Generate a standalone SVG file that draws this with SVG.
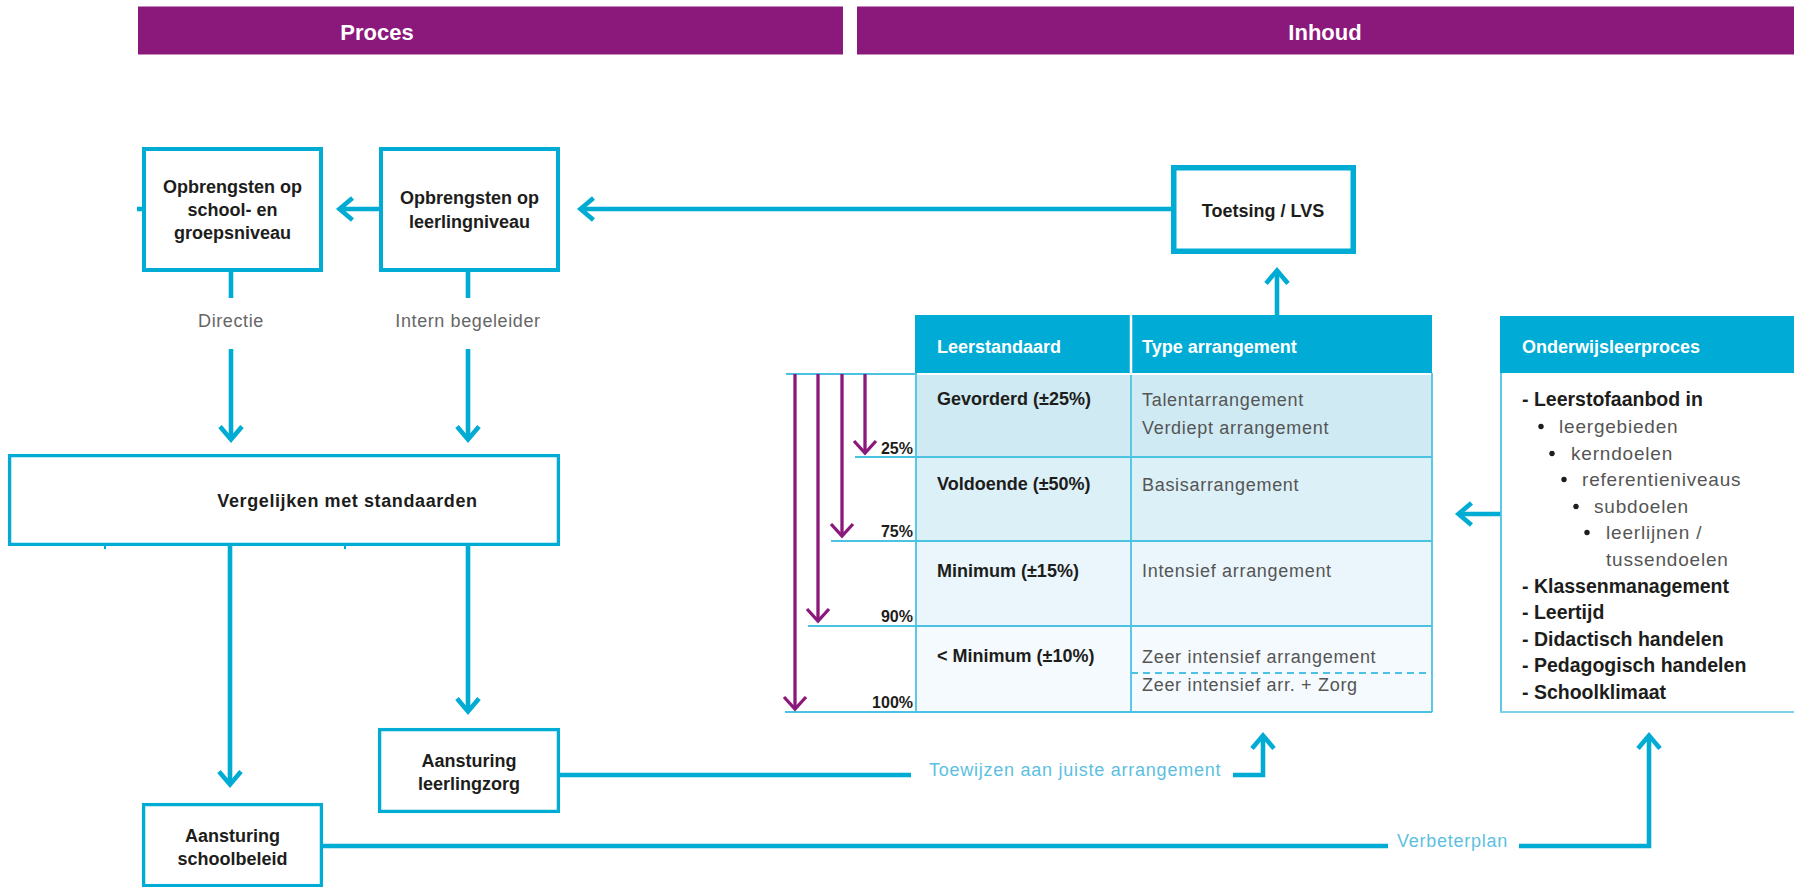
<svg xmlns="http://www.w3.org/2000/svg" width="1794" height="887" viewBox="0 0 1794 887">
<style>
text{font-family:"Liberation Sans",Arial,sans-serif}
.bar{fill:#8b187b}
.title{font-size:22px;font-weight:bold;fill:#fff;text-anchor:middle}
.box{fill:#fff;stroke:#00acd4}
.bt{font-size:18px;font-weight:bold;fill:#1d1d1b;text-anchor:middle}
.con{fill:none;stroke:#00acd4;stroke-width:4.6}
.chev{fill:none;stroke:#00acd4;stroke-width:4.6;stroke-linejoin:miter;stroke-miterlimit:10}
.lbl{font-size:18px;fill:#666;letter-spacing:0.6px;text-anchor:middle}
.blbl{font-size:18px;fill:#5cbfe2;letter-spacing:0.75px}
.hdr{fill:#00acd6}
.ht{font-size:18px;font-weight:bold;fill:#fff}
.tl{fill:none;stroke:#4cc2e2;stroke-width:1.8}
.rb{font-size:18px;font-weight:bold;fill:#1d1d1b}
.rr{font-size:18px;fill:#555;letter-spacing:0.7px}
.pct{font-size:16px;font-weight:bold;fill:#1d1d1b;text-anchor:end}
.pur{fill:none;stroke:#8b187b;stroke-width:3.3}
.li{font-size:19.5px;font-weight:bold;fill:#1d1d1b}
.sub{font-size:19px;fill:#555;letter-spacing:0.8px}
</style>

<g id="header-proces">
<rect class="bar" x="138" y="6.5" width="705" height="48"/>
<text class="title" x="377" y="40">Proces</text>
</g>
<g id="header-inhoud">
<rect class="bar" x="857" y="6.5" width="937" height="48"/>
<text class="title" x="1325" y="40">Inhoud</text>
</g>

<g id="connectors">
<line class="con" x1="137" y1="209" x2="144" y2="209"/>
<line class="con" x1="380" y1="209" x2="340" y2="209"/>
<polyline class="chev" points="352.5,198 339.5,209 352.5,220"/>
<line class="con" x1="1172" y1="209" x2="581" y2="209"/>
<polyline class="chev" points="593.5,198 580.5,209 593.5,220"/>

<line class="con" x1="231" y1="272" x2="231" y2="298"/>
<line class="con" x1="231" y1="349" x2="231" y2="439"/>
<polyline class="chev" points="220,426.5 231,439.5 242,426.5"/>
<line class="con" x1="468" y1="272" x2="468" y2="298"/>
<line class="con" x1="468" y1="349" x2="468" y2="439"/>
<polyline class="chev" points="457,426.5 468,439.5 479,426.5"/>

<line class="con" x1="230" y1="546" x2="230" y2="784"/>
<polyline class="chev" points="219,771.5 230,784.5 241,771.5"/>
<line class="con" x1="468" y1="546" x2="468" y2="711"/>
<polyline class="chev" points="457,698.5 468,711.5 479,698.5"/>
<line stroke="#00acd4" stroke-width="2" x1="105" y1="546" x2="105" y2="549"/>
<line stroke="#00acd4" stroke-width="2" x1="345" y1="546" x2="345" y2="549"/>

<line class="con" x1="1277" y1="315" x2="1277" y2="271"/>
<polyline class="chev" points="1266,283.5 1277,270.5 1288,283.5"/>

<line class="con" x1="1501" y1="514" x2="1459" y2="514"/>
<polyline class="chev" points="1471.5,503 1458.5,514 1471.5,525"/>

<line class="con" x1="559" y1="775" x2="911" y2="775"/>
<polyline class="con" points="1233,775 1263,775 1263,736"/>
<polyline class="chev" points="1252,748.5 1263,735.5 1274,748.5"/>

<line class="con" x1="322" y1="846" x2="1388" y2="846"/>
<polyline class="con" points="1519,846 1649,846 1649,736"/>
<polyline class="chev" points="1638,748.5 1649,735.5 1660,748.5"/>

<text class="lbl" x="231" y="327">Directie</text>
<text class="lbl" x="468" y="327">Intern begeleider</text>
<text class="blbl" x="929" y="776">Toewijzen aan juiste arrangement</text>
<text class="blbl" x="1397" y="847">Verbeterplan</text>
</g>

<g id="node-opbrengsten-school">
<rect class="box" stroke-width="4" x="144" y="149" width="177" height="121"/>
<text class="bt" x="232.5" y="193">Opbrengsten op</text>
<text class="bt" x="232.5" y="216">school- en</text>
<text class="bt" x="232.5" y="239">groepsniveau</text>
</g>

<g id="node-opbrengsten-leerling">
<rect class="box" stroke-width="4" x="381" y="149" width="177" height="121"/>
<text class="bt" x="469.5" y="204">Opbrengsten op</text>
<text class="bt" x="469.5" y="228">leerlingniveau</text>
</g>

<g id="node-toetsing">
<rect class="box" stroke-width="5.5" x="1173.75" y="167.75" width="179.5" height="83.5"/>
<text class="bt" x="1263" y="217">Toetsing / LVS</text>
</g>

<g id="node-vergelijken">
<rect class="box" stroke-width="3.3" x="9.6" y="455.6" width="548.8" height="88.8"/>
<text class="bt" x="347.5" y="507" style="letter-spacing:0.6px">Vergelijken met standaarden</text>
</g>

<g id="node-aansturing-leerlingzorg">
<rect class="box" stroke-width="3.3" x="379.6" y="729.6" width="178.8" height="81.8"/>
<text class="bt" x="469" y="767">Aansturing</text>
<text class="bt" x="469" y="790">leerlingzorg</text>
</g>

<g id="node-aansturing-schoolbeleid">
<rect class="box" stroke-width="3.3" x="143.6" y="804.6" width="177.8" height="81"/>
<text class="bt" x="232.5" y="842">Aansturing</text>
<text class="bt" x="232.5" y="865">schoolbeleid</text>
</g>

<g id="node-table">
<rect class="hdr" x="915" y="315" width="517" height="58"/>
<line stroke="#fff" stroke-width="2.5" x1="1131" y1="315" x2="1131" y2="373"/>
<rect x="916" y="375" width="516" height="82" fill="#cfeaf3"/>
<rect x="916" y="457" width="516" height="84" fill="#dcf0f7"/>
<rect x="916" y="541" width="516" height="85" fill="#eaf6fb"/>
<rect x="916" y="626" width="516" height="86" fill="#f4fafd"/>
<line class="tl" x1="786" y1="374" x2="916" y2="374"/>
<line class="tl" x1="916" y1="373" x2="916" y2="712"/>
<line class="tl" x1="1432" y1="373" x2="1432" y2="712"/>
<line class="tl" x1="1131" y1="375" x2="1131" y2="712"/>
<line class="tl" x1="855" y1="457" x2="1432" y2="457"/>
<line class="tl" x1="831" y1="541" x2="1432" y2="541"/>
<line class="tl" x1="808" y1="626" x2="1432" y2="626"/>
<line class="tl" x1="785" y1="712" x2="1432" y2="712"/>
<line class="tl" stroke-dasharray="7,5" x1="1131" y1="673" x2="1432" y2="673"/>
<text class="ht" x="937" y="353">Leerstandaard</text>
<text class="ht" x="1142" y="353">Type arrangement</text>
<text class="rb" x="937" y="405">Gevorderd (±25%)</text>
<text class="rb" x="937" y="490">Voldoende (±50%)</text>
<text class="rb" x="937" y="577">Minimum (±15%)</text>
<text class="rb" x="937" y="662">&lt; Minimum (±10%)</text>
<text class="rr" x="1142" y="406">Talentarrangement</text>
<text class="rr" x="1142" y="434">Verdiept arrangement</text>
<text class="rr" x="1142" y="491">Basisarrangement</text>
<text class="rr" x="1142" y="577">Intensief arrangement</text>
<text class="rr" x="1142" y="663">Zeer intensief arrangement</text>
<text class="rr" x="1142" y="691">Zeer intensief arr. + Zorg</text>
<line class="pur" x1="865" y1="374" x2="865" y2="453"/>
<polyline class="pur" points="854,441 865,453 876,441"/>
<line class="pur" x1="842" y1="374" x2="842" y2="536"/>
<polyline class="pur" points="831,524 842,536 853,524"/>
<line class="pur" x1="818" y1="374" x2="818" y2="621"/>
<polyline class="pur" points="807,609 818,621 829,609"/>
<line class="pur" x1="795" y1="374" x2="795" y2="709"/>
<polyline class="pur" points="784,697 795,709 806,697"/>
<text class="pct" x="913" y="454">25%</text>
<text class="pct" x="913" y="537">75%</text>
<text class="pct" x="913" y="622">90%</text>
<text class="pct" x="913" y="708">100%</text>
</g>

<g id="node-onderwijsleerproces">
<rect class="hdr" x="1500" y="316" width="294" height="57"/>
<line stroke="#4cc2e2" stroke-width="1.8" x1="1501" y1="373" x2="1501" y2="712"/>
<line stroke="#7fd0ea" stroke-width="2.2" x1="1500" y1="712" x2="1794" y2="712"/>
<text class="ht" x="1522" y="353">Onderwijsleerproces</text>
<text class="li" x="1522" y="406">- Leerstofaanbod in</text>
<circle cx="1541" cy="426.5" r="2.7" fill="#1d1d1b"/>
<text class="sub" x="1559" y="433">leergebieden</text>
<circle cx="1552" cy="453.5" r="2.7" fill="#1d1d1b"/>
<text class="sub" x="1571" y="460">kerndoelen</text>
<circle cx="1564" cy="479.5" r="2.7" fill="#1d1d1b"/>
<text class="sub" x="1582" y="486">referentieniveaus</text>
<circle cx="1576" cy="506.5" r="2.7" fill="#1d1d1b"/>
<text class="sub" x="1594" y="513">subdoelen</text>
<circle cx="1587" cy="532.5" r="2.7" fill="#1d1d1b"/>
<text class="sub" x="1606" y="539">leerlijnen /</text>
<text class="sub" x="1606" y="566">tussendoelen</text>
<text class="li" x="1522" y="593">- Klassenmanagement</text>
<text class="li" x="1522" y="619">- Leertijd</text>
<text class="li" x="1522" y="646">- Didactisch handelen</text>
<text class="li" x="1522" y="672">- Pedagogisch handelen</text>
<text class="li" x="1522" y="699">- Schoolklimaat</text>
</g>
</svg>
